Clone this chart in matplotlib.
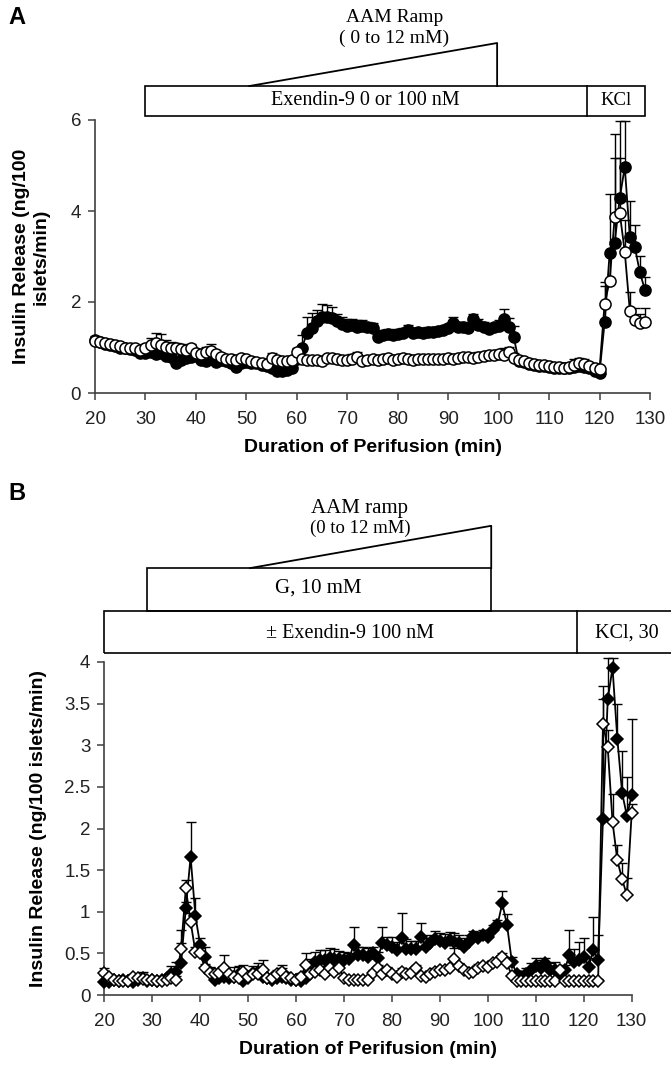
import matplotlib
matplotlib.use("Agg")
import matplotlib.pyplot as plt
import matplotlib.transforms as transforms
from matplotlib.patches import Rectangle
from matplotlib.ticker import FormatStrFormatter

plt.rcParams['font.family'] = ['Liberation Sans', 'DejaVu Sans']

# ---------------- panel A data (minutes 20..129) ----------------
time_a = list(range(20, 130))
ctrl_a = [1.15, 1.13, 1.10, 1.07, 1.05, 1.03, 1.00, 1.00, 1.00, 0.95,
          0.98, 1.05, 1.10, 1.05, 1.02, 1.00, 0.98, 0.97, 0.95, 1.00,
          0.88, 0.85, 0.90, 0.92, 0.85, 0.80, 0.75, 0.75, 0.73, 0.77,
          0.75, 0.70, 0.68, 0.65, 0.63, 0.77, 0.72, 0.70, 0.70, 0.73,
          0.90, 0.75, 0.72, 0.72, 0.72, 0.70, 0.78, 0.78, 0.75, 0.72,
          0.72, 0.75, 0.80, 0.70, 0.72, 0.75, 0.72, 0.75, 0.77, 0.72,
          0.75, 0.77, 0.75, 0.73, 0.75, 0.75, 0.74, 0.74, 0.75, 0.75,
          0.76, 0.75, 0.78, 0.80, 0.80, 0.78, 0.80, 0.82, 0.84, 0.83,
          0.85, 0.84, 0.90, 0.78, 0.72, 0.70, 0.66, 0.64, 0.62, 0.62,
          0.60, 0.58, 0.57, 0.56, 0.57, 0.62, 0.66, 0.64, 0.60, 0.55,
          0.52, 1.96, 2.46, 3.87, 3.96, 3.10, 1.81, 1.60, 1.54, 1.57]
ctrl_a_err = [0.05, 0.05, 0.05, 0.05, 0.05, 0.05, 0.05, 0.05, 0.05, 0.06,
              0.10, 0.15, 0.22, 0.25, 0.15, 0.12, 0.12, 0.10, 0.10, 0.08,
              0.08, 0.10, 0.12, 0.15, 0.10, 0.08, 0.06, 0.06, 0.06, 0.06,
              0.05, 0.05, 0.05, 0.05, 0.05, 0.12, 0.10, 0.06, 0.06, 0.06,
              0.06, 0.05, 0.05, 0.05, 0.05, 0.10, 0.06, 0.06, 0.05, 0.05,
              0.05, 0.10, 0.10, 0.05, 0.05, 0.05, 0.05, 0.05, 0.05, 0.05,
              0.05, 0.05, 0.05, 0.05, 0.05, 0.08, 0.05, 0.05, 0.05, 0.05,
              0.05, 0.05, 0.05, 0.05, 0.05, 0.08, 0.10, 0.08, 0.08, 0.10,
              0.10, 0.15, 0.12, 0.10, 0.08, 0.06, 0.05, 0.05, 0.05, 0.05,
              0.05, 0.05, 0.05, 0.05, 0.05, 0.12, 0.12, 0.10, 0.05, 0.05,
              0.05, 0.40, 0.60, 1.30, 1.20, 0.70, 0.42, 0.27, 0.20, 0.30]
ex9_a = [1.17, 1.12, 1.08, 1.05, 1.03, 1.00, 0.98, 0.97, 0.95, 0.88,
         0.88, 0.90, 0.85, 0.88, 0.82, 0.80, 0.65, 0.72, 0.78, 0.80,
         0.82, 0.72, 0.70, 0.75, 0.68, 0.72, 0.70, 0.65, 0.58, 0.65,
         0.68, 0.65, 0.65, 0.62, 0.60, 0.55, 0.48, 0.48, 0.50, 0.55,
         0.75, 0.98, 1.32, 1.42, 1.58, 1.66, 1.68, 1.65, 1.58, 1.52,
         1.48, 1.50, 1.46, 1.48, 1.44, 1.42, 1.22, 1.28, 1.30, 1.28,
         1.30, 1.32, 1.38, 1.32, 1.33, 1.32, 1.35, 1.34, 1.36, 1.38,
         1.42, 1.54, 1.45, 1.46, 1.42, 1.62, 1.50, 1.46, 1.40, 1.44,
         1.48, 1.62, 1.45, 1.22, 0.70, 0.68, 0.64, 0.62, 0.60, 0.60,
         0.58, 0.56, 0.55, 0.54, 0.55, 0.58, 0.60, 0.58, 0.55, 0.48,
         0.45, 1.55, 3.07, 3.30, 4.28, 4.97, 3.43, 3.20, 2.65, 2.26]
ex9_a_err = [0.08, 0.08, 0.06, 0.06, 0.06, 0.06, 0.06, 0.06, 0.08, 0.12,
             0.15, 0.20, 0.25, 0.20, 0.22, 0.20, 0.25, 0.20, 0.18, 0.15,
             0.12, 0.15, 0.15, 0.15, 0.12, 0.10, 0.10, 0.10, 0.10, 0.10,
             0.10, 0.10, 0.08, 0.10, 0.10, 0.12, 0.12, 0.12, 0.15, 0.18,
             0.25, 0.30, 0.35, 0.33, 0.25, 0.30, 0.25, 0.25, 0.15, 0.15,
             0.15, 0.12, 0.15, 0.12, 0.12, 0.12, 0.10, 0.10, 0.10, 0.10,
             0.10, 0.10, 0.12, 0.10, 0.10, 0.10, 0.10, 0.10, 0.10, 0.10,
             0.10, 0.12, 0.12, 0.10, 0.10, 0.12, 0.12, 0.10, 0.10, 0.10,
             0.12, 0.22, 0.20, 0.25, 0.10, 0.08, 0.06, 0.06, 0.06, 0.06,
             0.06, 0.06, 0.06, 0.06, 0.06, 0.06, 0.06, 0.06, 0.06, 0.06,
             0.06, 0.90, 1.30, 2.40, 1.70, 1.00, 0.80, 0.50, 0.35, 0.30]

# ---------------- panel B data (minutes 20..130) ----------------
time_b = list(range(20, 131))
ctrl_b = [0.26, 0.22, 0.18, 0.17, 0.17, 0.17, 0.22, 0.20, 0.19, 0.18,
          0.18, 0.17, 0.17, 0.18, 0.20, 0.18, 0.55, 1.28, 0.88, 0.52,
          0.50, 0.32, 0.27, 0.25, 0.27, 0.33, 0.25, 0.22, 0.20, 0.28,
          0.22, 0.25, 0.25, 0.30, 0.20, 0.20, 0.25, 0.28, 0.22, 0.20,
          0.18, 0.22, 0.36, 0.25, 0.28, 0.30, 0.25, 0.32, 0.28, 0.32,
          0.20, 0.18, 0.18, 0.18, 0.18, 0.18, 0.26, 0.32, 0.25, 0.30,
          0.25, 0.22, 0.28, 0.25, 0.27, 0.32, 0.23, 0.22, 0.25, 0.28,
          0.30, 0.30, 0.32, 0.43, 0.35, 0.30, 0.27, 0.28, 0.33, 0.35,
          0.34, 0.38, 0.40, 0.46, 0.38, 0.23, 0.17, 0.17, 0.17, 0.17,
          0.17, 0.17, 0.17, 0.17, 0.17, 0.30, 0.17, 0.17, 0.17, 0.17,
          0.17, 0.17, 0.17, 0.17, 3.25, 2.98, 2.08, 1.62, 1.39, 1.20,
          2.19]
ctrl_b_err = [0.07, 0.03, 0.03, 0.03, 0.03, 0.03, 0.03, 0.03, 0.03, 0.03,
              0.03, 0.03, 0.03, 0.03, 0.05, 0.05, 0.08, 0.10, 0.10, 0.06,
              0.06, 0.05, 0.04, 0.04, 0.04, 0.15, 0.04, 0.04, 0.04, 0.08,
              0.04, 0.04, 0.04, 0.12, 0.04, 0.04, 0.04, 0.08, 0.04, 0.04,
              0.03, 0.04, 0.14, 0.04, 0.04, 0.05, 0.04, 0.05, 0.04, 0.04,
              0.03, 0.03, 0.03, 0.03, 0.03, 0.03, 0.04, 0.04, 0.04, 0.04,
              0.04, 0.04, 0.04, 0.04, 0.04, 0.04, 0.04, 0.04, 0.04, 0.04,
              0.04, 0.04, 0.04, 0.13, 0.04, 0.04, 0.04, 0.04, 0.04, 0.04,
              0.04, 0.04, 0.04, 0.05, 0.05, 0.03, 0.02, 0.02, 0.02, 0.02,
              0.02, 0.02, 0.02, 0.02, 0.02, 0.04, 0.02, 0.02, 0.02, 0.02,
              0.02, 0.02, 0.02, 0.02, 0.30, 0.20, 0.34, 0.18, 0.20, 0.21,
              0.10]
ex9_b = [0.16, 0.16, 0.18, 0.17, 0.18, 0.17, 0.16, 0.18, 0.20, 0.17,
         0.18, 0.17, 0.18, 0.20, 0.25, 0.28, 0.38, 1.04, 1.66, 0.95,
         0.60, 0.46, 0.28, 0.18, 0.20, 0.22, 0.20, 0.22, 0.25, 0.17,
         0.20, 0.27, 0.28, 0.22, 0.20, 0.18, 0.20, 0.22, 0.20, 0.18,
         0.18, 0.17, 0.20, 0.28, 0.40, 0.42, 0.42, 0.45, 0.43, 0.43,
         0.42, 0.43, 0.60, 0.48, 0.48, 0.46, 0.50, 0.44, 0.62, 0.60,
         0.58, 0.54, 0.68, 0.55, 0.55, 0.55, 0.70, 0.58, 0.62, 0.67,
         0.65, 0.63, 0.66, 0.64, 0.62, 0.58, 0.64, 0.71, 0.68, 0.72,
         0.70, 0.78, 0.84, 1.10, 0.84, 0.40, 0.25, 0.22, 0.25, 0.30,
         0.35, 0.32, 0.38, 0.30, 0.30, 0.26, 0.30, 0.48, 0.40, 0.42,
         0.46, 0.34, 0.54, 0.42, 2.11, 3.55, 3.93, 3.08, 2.43, 2.15,
         2.40]
ex9_b_err = [0.08, 0.04, 0.04, 0.04, 0.04, 0.04, 0.04, 0.04, 0.08, 0.04,
             0.04, 0.04, 0.04, 0.04, 0.10, 0.12, 0.40, 0.08, 0.42, 0.22,
             0.08, 0.12, 0.06, 0.05, 0.05, 0.05, 0.08, 0.12, 0.10, 0.10,
             0.08, 0.08, 0.10, 0.06, 0.05, 0.05, 0.10, 0.10, 0.08, 0.05,
             0.04, 0.04, 0.06, 0.15, 0.12, 0.12, 0.12, 0.12, 0.12, 0.10,
             0.10, 0.08, 0.22, 0.10, 0.10, 0.10, 0.08, 0.08, 0.20, 0.10,
             0.12, 0.10, 0.30, 0.12, 0.10, 0.10, 0.16, 0.10, 0.10, 0.10,
             0.10, 0.10, 0.10, 0.10, 0.10, 0.10, 0.08, 0.06, 0.08, 0.06,
             0.08, 0.06, 0.06, 0.15, 0.13, 0.06, 0.04, 0.06, 0.08, 0.08,
             0.10, 0.10, 0.06, 0.08, 0.10, 0.06, 0.06, 0.30, 0.15, 0.22,
             0.22, 0.10, 0.40, 0.30, 1.60, 0.50, 0.12, 0.42, 0.50, 0.47,
             0.92]

axis_col = '#404040'


def style_axis(ax, xlim, ylim, yticks):
    ax.set_xlim(*xlim)
    ax.set_ylim(*ylim)
    ax.set_xticks(range(20, 131, 10))
    ax.set_yticks(yticks)
    ax.yaxis.set_major_formatter(FormatStrFormatter('%g'))
    for s in ['top', 'right']:
        ax.spines[s].set_visible(False)
    for s in ['left', 'bottom']:
        ax.spines[s].set_color(axis_col)
        ax.spines[s].set_linewidth(1.2)
    ax.tick_params(axis='both', direction='out', length=5, width=1.1,
                   color=axis_col, labelcolor='#222222', labelsize=13.5)
    ax.tick_params(axis='x', pad=8)
    ax.tick_params(axis='y', pad=5)
    ax.set_xlabel('Duration of Perifusion (min)', fontsize=14, fontweight='bold', labelpad=8)


def draw_series(ax, t, y, err, marker, ms, face, z):
    low = [0] * len(err)
    eb = ax.errorbar(t, y, yerr=[low, err], fmt='none', ecolor='black',
                     elinewidth=1.0, capsize=3.5, capthick=1.0, zorder=z)
    for art in eb.lines[1] + eb.lines[2]:
        art.set_clip_on(False)
    ax.plot(t, y, color='black', lw=1.3, marker=marker, ms=ms, mfc=face,
            mec='black', mew=1.1, zorder=z + 1, clip_on=False)


fig = plt.figure(figsize=(6.71, 10.68), dpi=100)

# ---------------- panel A ----------------
axA = fig.add_axes([95 / 671, 1 - 393 / 1068, 555 / 671, 273 / 1068])
draw_series(axA, time_a, ex9_a, ex9_a_err, 'o', 8, 'black', 2)
draw_series(axA, time_a, ctrl_a, ctrl_a_err, 'o', 8, 'white', 4)
style_axis(axA, (20, 130), (0, 6), [0, 2, 4, 6])
axA.set_ylabel('Insulin Release (ng/100\nislets/min)', fontsize=14,
               fontweight='bold', multialignment='center', va='center')
axA.yaxis.set_label_coords(-0.115, 0.5)

trA = transforms.blended_transform_factory(axA.transData, axA.transAxes)
axA.add_patch(Rectangle((30, 1.0147), 99.1, 0.1098, transform=trA,
                        fill=False, lw=1.2, ec='black', clip_on=False))
axA.plot([117.6, 117.6], [1.0147, 1.1245], transform=trA, color='black', lw=1.2, clip_on=False)
axA.plot([50.6, 99.7, 99.7], [1.1245, 1.282, 1.1245], transform=trA,
         color='black', lw=1.3, clip_on=False)
axA.text(73.5, 1.0696, 'Exendin-9 0 or 100 nM', transform=trA, ha='center', va='center',
         fontsize=14.5, family='Liberation Serif')
axA.text(123.3, 1.0696, 'KCl', transform=trA, ha='center', va='center',
         fontsize=13.5, family='Liberation Serif')
axA.text(79.3, 1.374, 'AAM Ramp', transform=trA, ha='center', va='center',
         fontsize=14, family='Liberation Serif')
axA.text(79.3, 1.300, '( 0 to 12 mM)', transform=trA, ha='center', va='center',
         fontsize=14, family='Liberation Serif')

# ---------------- panel B ----------------
axB = fig.add_axes([104.3 / 671, 1 - 995 / 1068, 527.4 / 671, 333 / 1068])
draw_series(axB, time_b, ex9_b, ex9_b_err, 'D', 6, 'black', 2)
draw_series(axB, time_b, ctrl_b, ctrl_b_err, 'D', 6, 'white', 4)
style_axis(axB, (20, 130), (0, 4), [0, 0.5, 1, 1.5, 2, 2.5, 3, 3.5, 4])
axB.set_ylabel('Insulin Release (ng/100 islets/min)', fontsize=14,
               fontweight='bold', va='center')
axB.yaxis.set_label_coords(-0.124, 0.5)

trB = transforms.blended_transform_factory(axB.transData, axB.transAxes)
axB.add_patch(Rectangle((20, 1.027), 125, 0.126, transform=trB,
                        fill=False, lw=1.2, ec='black', clip_on=False))
axB.plot([118.6, 118.6], [1.027, 1.153], transform=trB, color='black', lw=1.2, clip_on=False)
axB.add_patch(Rectangle((28.9, 1.153), 71.8, 0.129, transform=trB,
                        fill=False, lw=1.2, ec='black', clip_on=False))
axB.plot([50.4, 100.7, 100.7], [1.282, 1.409, 1.282], transform=trB,
         color='black', lw=1.3, clip_on=False)
axB.text(71.3, 1.087, '\u00b1 Exendin-9 100 nM', transform=trB, ha='center', va='center',
         fontsize=14.5, family='Liberation Serif')
axB.text(129, 1.087, 'KCl, 30', transform=trB, ha='center', va='center',
         fontsize=14.5, family='Liberation Serif')
axB.text(64.6, 1.222, 'G, 10 mM', transform=trB, ha='center', va='center',
         fontsize=15, family='Liberation Serif')
axB.text(73.3, 1.462, 'AAM ramp', transform=trB, ha='center', va='center',
         fontsize=15, family='Liberation Serif')
axB.text(73.3, 1.402, '(0 to 12 mM)', transform=trB, ha='center', va='center',
         fontsize=13.5, family='Liberation Serif')

# panel letters
fig.text(17 / 671, 1 - 17 / 1068, 'A', fontsize=17, fontweight='bold', ha='center', va='center')
fig.text(17 / 671, 1 - 493 / 1068, 'B', fontsize=17, fontweight='bold', ha='center', va='center')

fig.savefig('out.png', dpi=100)
